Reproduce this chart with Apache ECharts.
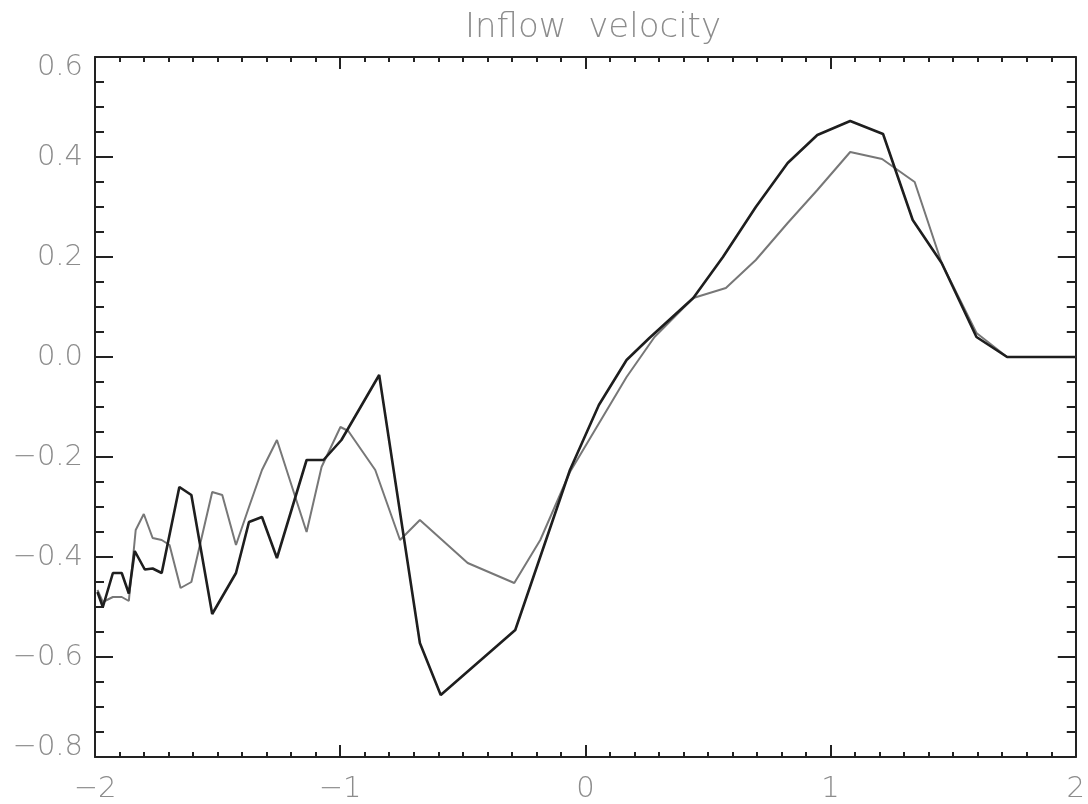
<!DOCTYPE html>
<html>
<head>
<meta charset="utf-8">
<title>Inflow velocity</title>
<script src="https://cdn.jsdelivr.net/npm/echarts@6/dist/echarts.min.js"></script>
<style>
  html, body { margin: 0; padding: 0; background: #fff; }
  #chart { width: 1088px; height: 804px; }
</style>
</head>
<body>
<div id="chart"></div>
<script>
// black curve
const blackX = [-1.99, -1.968, -1.927, -1.891, -1.862, -1.838, -1.797, -1.765, -1.728, -1.656,
  -1.607, -1.522, -1.425, -1.372, -1.319, -1.258, -1.137, -1.068, -0.995, -0.841,
  -0.675, -0.590, -0.286, -0.063, 0.055, 0.168, 0.261, 0.44, 0.561, 0.695,
  0.825, 0.946, 1.080, 1.214, 1.335, 1.453, 1.595, 1.720, 2.0]
const blackY = [-0.47, -0.50, -0.432, -0.432, -0.473, -0.388, -0.425, -0.423, -0.432, -0.26,
  -0.276, -0.514, -0.432, -0.33, -0.32, -0.402, -0.206, -0.206, -0.166, -0.036,
  -0.572, -0.676, -0.546, -0.226, -0.096, -0.006, 0.038, 0.118, 0.2, 0.3,
  0.388, 0.444, 0.472, 0.446, 0.274, 0.188, 0.04, 0.0, 0.0]
// gray curve
const grayX = [-1.99, -1.968, -1.927, -1.891, -1.862, -1.834, -1.801, -1.765, -1.728, -1.696,
  -1.651, -1.607, -1.522, -1.481, -1.425, -1.372, -1.319, -1.258, -1.137, -1.076,
  -0.999, -0.967, -0.857, -0.756, -0.675, -0.480, -0.290, -0.184, -0.063, 0.168,
  0.282, 0.44, 0.573, 0.695, 0.825, 0.946, 1.080, 1.210, 1.343, 1.453,
  1.595, 1.720, 2.0]
const grayY = [-0.466, -0.49, -0.48, -0.48, -0.488, -0.346, -0.314, -0.362, -0.366, -0.376,
  -0.462, -0.45, -0.27, -0.276, -0.376, -0.30, -0.226, -0.166, -0.35, -0.22,
  -0.14, -0.148, -0.226, -0.366, -0.326, -0.412, -0.452, -0.366, -0.23, -0.04,
  0.04, 0.118, 0.138, 0.194, 0.268, 0.334, 0.41, 0.396, 0.35, 0.188,
  0.048, 0.0, 0.0]

const zip = (xs, ys) => xs.map((x, i) => [x, ys[i]])
const minus = s => String(s).replace('-', '\u2212')

const labelFont = { color: '#8c8c8c', fontSize: 29, fontFamily: 'DejaVu Sans', fontWeight: 200 }
const lineStyle = { color: '#222', width: 2 }

const xBase = {
  type: 'value', min: -2, max: 2, interval: 1,
  axisLine: { show: true, onZero: false, lineStyle: lineStyle },
  axisTick: { show: true, inside: true, length: 12, lineStyle: lineStyle },
  minorTick: { show: true, splitNumber: 10, length: 5, lineStyle: { color: '#222', width: 2 } },
  splitLine: { show: false }
}
const yBase = {
  type: 'value', min: -0.8, max: 0.6, interval: 0.2,
  axisLine: { show: true, onZero: false, lineStyle: lineStyle },
  axisTick: { show: true, inside: true, length: 18, lineStyle: lineStyle },
  minorTick: { show: true, splitNumber: 4, length: 9, lineStyle: { color: '#222', width: 2 } },
  splitLine: { show: false }
}

const chart = echarts.init(document.getElementById('chart'))
chart.setOption({
  animation: false,
  backgroundColor: '#fff',
  title: {
    text: 'Inflow  velocity',
    left: 588, top: 6, textAlign: 'center',
    textStyle: { color: '#8c8c8c', fontSize: 34, fontWeight: 200, fontFamily: 'DejaVu Sans' }
  },
  grid: { left: 95, right: 6, top: 57, bottom: 47 },
  xAxis: [
    Object.assign({}, xBase, {
      position: 'bottom',
      axisLabel: Object.assign({}, labelFont, { margin: 18, showMinLabel: true, showMaxLabel: true, formatter: v => minus(v) })
    }),
    Object.assign({}, xBase, { position: 'top', axisLabel: { show: false } })
  ],
  yAxis: [
    Object.assign({}, yBase, {
      position: 'left',
      axisLabel: Object.assign({}, labelFont, {
        margin: 12, lineHeight: 20,
        verticalAlignMaxLabel: 'top', verticalAlignMinLabel: 'bottom',
        formatter: v => minus(v.toFixed(1))
      })
    }),
    Object.assign({}, yBase, { position: 'right', axisLabel: { show: false } })
  ],
  series: [
    {
      type: 'line', data: zip(grayX, grayY), showSymbol: false,
      lineStyle: { color: '#777', width: 2 }
    },
    {
      type: 'line', data: zip(blackX, blackY), showSymbol: false,
      lineStyle: { color: '#1e1e1e', width: 2.6 }
    }
  ]
})
</script>
</body>
</html>
